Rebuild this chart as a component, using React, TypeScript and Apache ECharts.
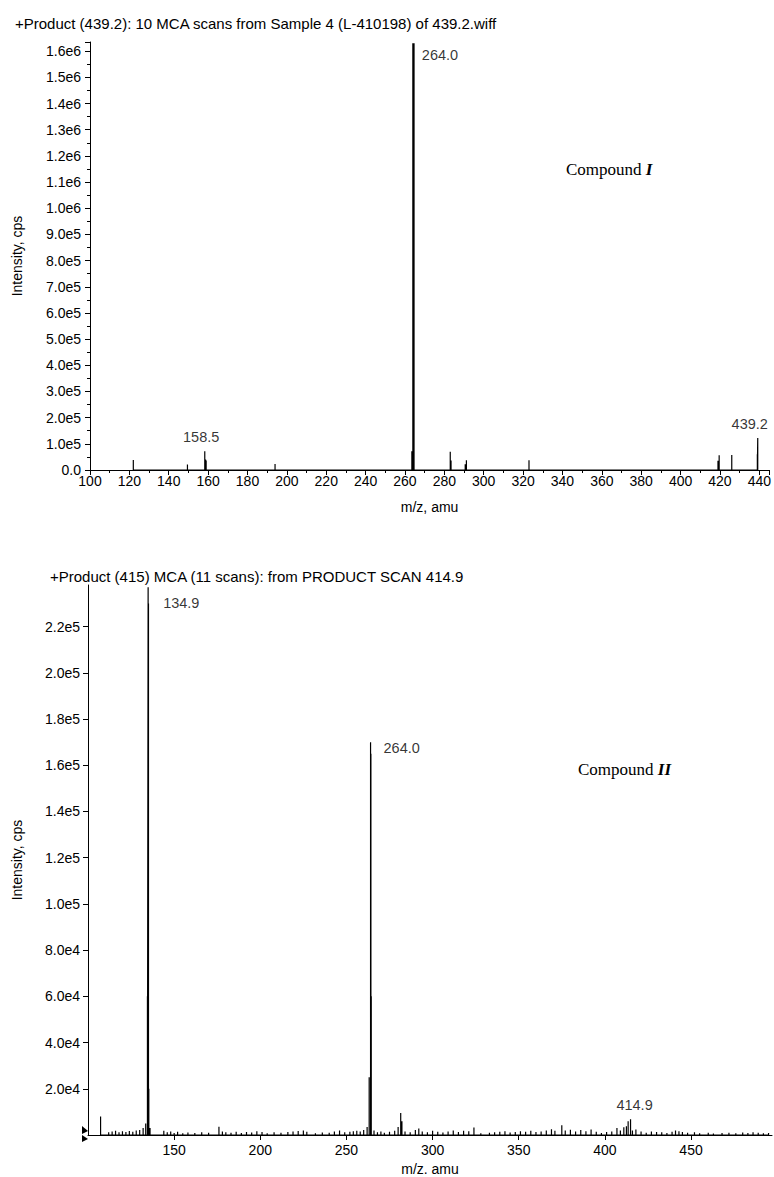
import React, { useEffect, useRef } from "react";
import * as echarts from "echarts";

const topTitle = "+Product (439.2): 10 MCA scans from Sample 4 (L-410198) of 439.2.wiff";
const bottomTitle = "+Product (415) MCA (11 scans): from PRODUCT SCAN 414.9";

// Compound I spectrum (m/z, cps)
const topMz = [122.0, 149.5, 158.3, 158.7, 159.0, 194.0, 263.5, 264.0, 264.3, 264.6, 283.0, 283.4, 290.6, 291.2, 323.0, 419.0, 419.6, 426.0, 439.0, 439.2];
const topIntensity = [38000, 21000, 72000, 40000, 36000, 23000, 72000, 1630000, 1630000, 1630000, 70000, 36000, 22000, 37000, 37000, 35000, 56000, 57000, 60000, 122000];
const topLabelMz = [264.0, 158.5, 439.2];
const topLabelIntensity = [1630000, 72000, 122000];
const topLabelText = ["264.0", "158.5", "439.2"];

// Compound II spectrum (m/z, cps)
const bottomMz = [
  107.3, 112, 114, 116, 118, 120, 122, 124, 126, 128, 130, 132, 133.5, 134.5, 134.9, 135.1, 135.3, 136,
  144, 146, 148, 150, 152, 155, 158, 162, 166, 170, 176, 178, 180, 183, 186, 189, 192, 195, 198,
  201, 204, 208, 212, 216, 219, 222, 225, 227, 232, 236, 240, 243, 246, 249, 252, 254, 256, 258,
  260, 262, 263.2, 264.0, 264.2, 264.4, 266, 268, 270, 272, 275, 278, 280, 281.5, 282.2, 284, 287, 290,
  292, 294, 297, 300, 303, 306, 309, 312, 315, 318, 321, 324, 328, 333, 336, 339, 342, 345, 348,
  351, 354, 357, 360, 363, 366, 369, 371, 375, 377, 380, 383, 386, 389, 392, 395, 398, 401, 404,
  407, 409, 411, 412.5, 413.5, 414.9, 416, 418, 421, 424, 427, 430, 433, 436, 439, 441, 443, 445,
  448, 452, 455, 460, 463, 468, 472, 476, 480, 483, 486, 489, 492, 495,
];
const bottomIntensity = [
  8000, 1200, 1500, 1800, 1200, 1600, 1300, 1700, 1400, 1900, 2200, 3000, 5000, 60000, 237000, 230000, 20000, 3000,
  1800, 1200, 1500, 900, 1400, 800, 1100, 900, 1200, 1000, 3600, 1500, 1200, 1000, 1400, 900, 1300, 1100, 1600,
  1300, 800, 1200, 1000, 1300, 1500, 1700, 1900, 1400, 800, 1100, 1000, 1500, 2000, 1200, 1400, 1600, 1800, 1500,
  2200, 3500, 25000, 170000, 165000, 60000, 2000, 1200, 1500, 1000, 1400, 1800, 3500, 9500, 6000, 1500, 1200, 2200,
  2800, 1500, 1200, 1800, 1400, 1100, 1500, 2000, 1300, 1800, 1600, 3200, 800, 1000, 1200, 1400, 1600, 1100, 1300,
  1600, 1400, 1800, 1300, 1500, 2000, 2500, 1800, 4200, 2000, 2300, 1500, 2200, 1600, 2400, 1400, 900, 1300, 1500,
  3000, 2000, 3300, 3800, 6000, 6800, 2000, 2400, 1500, 1000, 1500, 1300, 1200, 900, 1400, 2000, 1600, 1300,
  1000, 1200, 800, 1000, 700, 900, 1000, 800, 1100, 900, 1200, 1000, 800, 900,
];
const bottomLabelMz = [134.9, 264.0, 414.9];
const bottomLabelIntensity = [237000, 170000, 6800];
const bottomLabelText = ["134.9", "264.0", "414.9"];

const SANS = "'Liberation Sans', Arial, Helvetica, sans-serif";
const SERIF = "'Liberation Serif', 'Times New Roman', serif";

function sticks(mz: number[], inten: number[]) {
  const out: number[][] = [];
  mz.forEach((m, i) => {
    out.push([m, 0], [m, inten[i]], [m, 0]);
  });
  return out;
}

function sci(v: number) {
  if (v === 0) return "0.0";
  const e = Math.floor(Math.log10(v) + 1e-9);
  const m = v / Math.pow(10, e);
  return m.toFixed(1) + "e" + e;
}

const labelPlacement: Record<string, any> = {
  top_264: { position: "right", offset: [4, 12] },
  "top_158.5": { position: "top", offset: [-4, -2] },
  "top_439.2": { position: "top", offset: [-8, -2] },
  "bottom_134.9": { position: "right", offset: [10, 16] },
  bottom_264: { position: "right", offset: [8, 6] },
  "bottom_414.9": { position: "top", offset: [4, -2] },
};

export default function App() {
  const ref = useRef<HTMLDivElement>(null);
  useEffect(() => {
    document.body.style.margin = "0";
    const chart = echarts.init(ref.current!, null, { renderer: "svg" });
    const axisText = { color: "#000", fontFamily: SANS, fontSize: 14 };
    const nameText = { color: "#000", fontFamily: SANS, fontSize: 14 };
    const line = { show: true, lineStyle: { color: "#000", width: 1 } };
    const labelSeries = (key: string, mz: number[], inten: number[], txt: string[], idx: number) => ({
      type: "scatter",
      xAxisIndex: idx,
      yAxisIndex: idx,
      symbolSize: 0,
      silent: true,
      data: mz.map((m, i) => {
        const k = key + "_" + (txt[i] === "264.0" ? "264" : txt[i]);
        return {
          value: [m, inten[i]],
          label: {
            show: true,
            formatter: txt[i],
            color: "#000",
            fontFamily: SANS,
            fontSize: 14.5,
            ...labelPlacement[k],
          },
        };
      }),
    });
    const rich = {
      a: { fontFamily: SERIF, fontSize: 17, fill: "#000" },
      b: { fontFamily: SERIF, fontSize: 17, fontWeight: "bold", fontStyle: "italic", fill: "#000" },
    };
    const option: any = {
      animation: false,
      backgroundColor: "#fff",
      title: [
        { text: topTitle, left: 10, top: 11, textStyle: { fontFamily: SANS, fontSize: 15, fontWeight: "normal", color: "#000" } },
        { text: bottomTitle, left: 45, top: 564, textStyle: { fontFamily: SANS, fontSize: 15, fontWeight: "normal", color: "#000" } },
      ],
      grid: [
        { left: 90, right: 3, top: 42, height: 428 },
        { left: 88, right: 2, top: 585, height: 555 },
      ],
      xAxis: [
        {
          type: "value", gridIndex: 0, min: 100, max: 445, interval: 20,
          name: "m/z, amu", nameLocation: "middle", nameGap: 30,
          nameTextStyle: { ...nameText },
          axisLine: line,
          axisTick: { show: true, length: 5, lineStyle: { color: "#000" } },
          minorTick: { show: true, splitNumber: 2, length: 3, lineStyle: { color: "#000" } },
          axisLabel: { ...axisText, margin: 4, showMaxLabel: false },
          splitLine: { show: false },
        },
        {
          type: "value", gridIndex: 1, min: 100, max: 497, interval: 50,
          name: "m/z. amu", nameLocation: "middle", nameGap: 27,
          nameTextStyle: { ...nameText },
          axisLine: line,
          axisTick: { show: true, length: 5, lineStyle: { color: "#000" } },
          axisLabel: { ...axisText, margin: 8, showMinLabel: false, showMaxLabel: false },
          splitLine: { show: false },
        },
      ],
      yAxis: [
        {
          type: "value", gridIndex: 0, min: 0, max: 1635000, interval: 100000,
          name: "Intensity, cps", nameLocation: "middle", nameGap: 66,
          nameTextStyle: { ...nameText },
          axisLine: line,
          axisTick: { show: true, length: 5, lineStyle: { color: "#000" } },
          minorTick: { show: true, splitNumber: 2, length: 3, lineStyle: { color: "#000" } },
          axisLabel: { ...axisText, margin: 9, showMaxLabel: false, formatter: (v: number) => sci(v) },
          splitLine: { show: false },
        },
        {
          type: "value", gridIndex: 1, min: 0, max: 238000, interval: 20000,
          name: "Intensity, cps", nameLocation: "middle", nameGap: 64,
          nameTextStyle: { ...nameText },
          axisLine: line,
          axisTick: { show: true, length: 5, lineStyle: { color: "#000" } },
          axisLabel: { ...axisText, margin: 8, showMinLabel: false, showMaxLabel: false, formatter: (v: number) => sci(v) },
          splitLine: { show: false },
        },
      ],
      series: [
        {
          type: "line", xAxisIndex: 0, yAxisIndex: 0, symbol: "none", silent: true,
          lineStyle: { color: "#000", width: 1.2 },
          data: sticks(topMz, topIntensity),
        },
        {
          type: "line", xAxisIndex: 1, yAxisIndex: 1, symbol: "none", silent: true,
          lineStyle: { color: "#000", width: 1.2 },
          data: sticks(bottomMz, bottomIntensity),
        },
        labelSeries("top", topLabelMz, topLabelIntensity, topLabelText, 0),
        labelSeries("bottom", bottomLabelMz, bottomLabelIntensity, bottomLabelText, 1),
      ],
      graphic: [
        { type: "text", left: 566, top: 161, style: { text: "{a|Compound }{b|I}", rich } },
        { type: "text", left: 578, top: 761, style: { text: "{a|Compound }{b|II}", rich } },
        { type: "polygon", shape: { points: [[82, 1126], [88, 1131], [82, 1134]] }, style: { fill: "#000" } },
        { type: "polygon", shape: { points: [[82, 1135], [88, 1139], [82, 1142]] }, style: { fill: "#000" } },
      ],
    };
    chart.setOption(option);
    return () => chart.dispose();
  }, []);
  return <div ref={ref} style={{ width: 774, height: 1177 }} />;
}
